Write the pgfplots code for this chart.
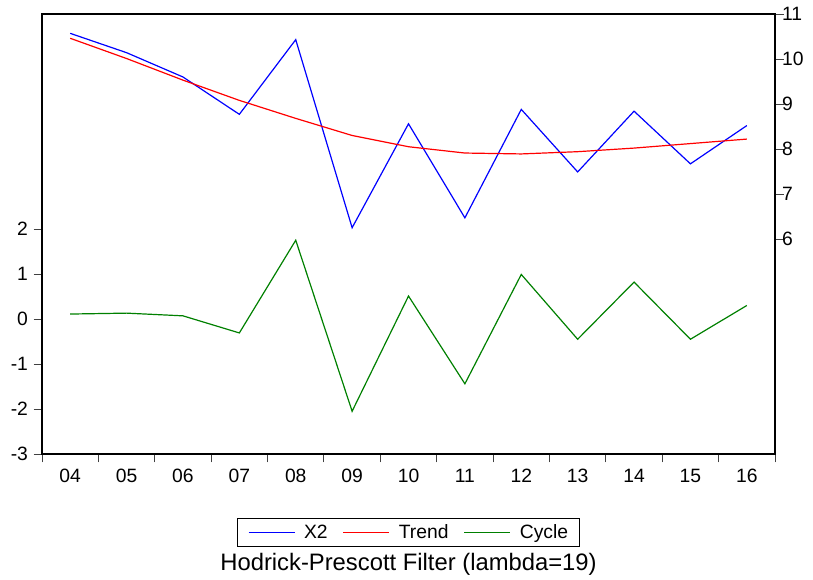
\documentclass[border=0pt]{standalone}
\usepackage{fontspec}
\setmainfont{Liberation Sans}
\usepackage{pgfplots}
\pgfplotsset{compat=1.18}
\definecolor{cblue}{RGB}{0,0,255}
\definecolor{cred}{RGB}{255,0,0}
\definecolor{cgreen}{RGB}{0,128,0}
\pgfplotstableread{
x X2 Trend Cycle
0 10.57 10.46 0.11
1 10.14 10.01 0.13
2 9.60 9.53 0.07
3 8.77 9.08 -0.31
4 10.43 8.68 1.75
5 6.25 8.30 -2.05
6 8.56 8.05 0.51
7 6.47 7.91 -1.44
8 8.88 7.89 0.99
9 7.49 7.94 -0.45
10 8.84 8.02 0.82
11 7.67 8.12 -0.45
12 8.52 8.22 0.30
}\hpdata
\begin{document}
\begin{tikzpicture}[x=1bp,y=1bp]
\useasboundingbox (0,0) rectangle (813,580);
\pgfplotsset{
  every axis/.append style={
    at={(42bp,126bp)}, anchor=south west,
    width=733bp, height=440bp, scale only axis,
    xmin=-0.5, xmax=12.5,
    tick align=outside,
    major tick length=8.5bp,
    minor tick length=8.5bp,
    /pgf/number format/assume math mode=true,
    tick label style={font=\fontsize{19.3bp}{23bp}\selectfont},
    axis line style={line width=1.1bp},
    every tick/.style={black!75, line width=0.9bp},
  }
}
\begin{axis}[
  ymin=-3, ymax=6.7778,
  ytick={-3,-2,...,2},
  ytick pos=left,
  xtick={0,...,12},
  xticklabels={04,05,06,07,08,09,10,11,12,13,14,15,16},
  xtick pos=bottom,
  major x tick style={draw=none},
  minor xtick={-0.5,0.5,...,12.5},
  xticklabel style={yshift=-3bp},
  yticklabel style={xshift=-2bp},
]
\addplot[cgreen, line width=1.2bp] table[x=x, y=Cycle] {\hpdata};
\end{axis}
\begin{axis}[
  ymin=1.2222, ymax=11,
  axis y line*=right, axis x line=none,
  ytick={6,...,11},
  yticklabel style={xshift=-5bp},
  legend columns=3,
  legend style={at={(0.4993,-0.178)}, anchor=center, draw=black, line width=0.8bp,
    font=\fontsize{19.3bp}{23bp}\selectfont,
    inner xsep=11bp, inner ysep=6bp,
    nodes={inner sep=0pt},
    /tikz/every odd column/.append style={column sep=9bp},
    /tikz/every even column/.append style={column sep=15bp}},
  legend image code/.code={\draw[#1, line width=1.2bp] (0bp,0bp) -- (46bp,0bp);},
]
\addplot[cblue, line width=1.2bp] table[x=x, y=X2] {\hpdata};
\addlegendentry{X2}
\addplot[cred, line width=1.2bp] table[x=x, y=Trend] {\hpdata};
\addlegendentry{Trend}
\addlegendimage{cgreen}
\addlegendentry{Cycle}
\end{axis}
\node[anchor=base, font=\fontsize{23.8bp}{28bp}\selectfont] at (408.5,9.3) {Hodrick-Prescott Filter (lambda=19)};
\end{tikzpicture}
\end{document}
